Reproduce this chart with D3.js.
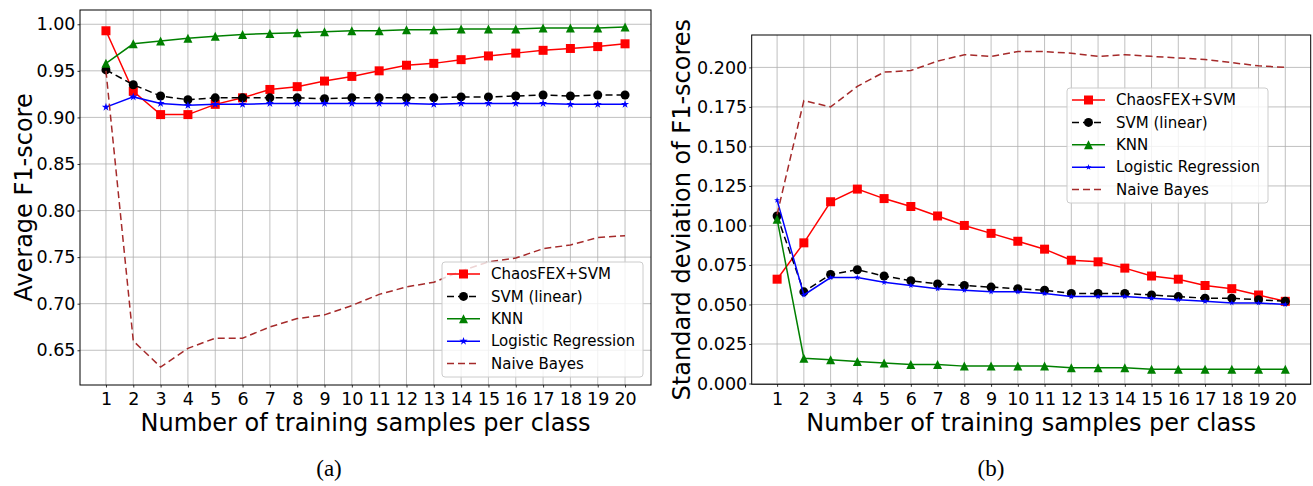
<!DOCTYPE html>
<html>
<head>
<meta charset="utf-8">
<script src="https://cdn.jsdelivr.net/npm/d3@7"></script>
<style>
  body { margin: 0; background: #fff; }
  svg { display: block; font-family: "DejaVu Sans", sans-serif; }
  .grid line { stroke: #b0b0b0; stroke-width: 0.8; }
  .tick text { fill: #000; }
</style>
</head>
<body>
<svg id="fig" width="1313" height="486"></svg>
<script>
// training samples per class
var samples = d3.range(1, 21);

var seriesNames = ["ChaosFEX+SVM", "SVM (linear)", "KNN", "Logistic Regression", "Naive Bayes"];

// (a) average F1-score
var avgChaosFEX = [0.993, 0.928, 0.903, 0.903, 0.914, 0.921, 0.930, 0.933, 0.939, 0.944,
                   0.950, 0.956, 0.958, 0.962, 0.966, 0.969, 0.972, 0.974, 0.976, 0.979];
var avgSVM      = [0.951, 0.935, 0.923, 0.919, 0.921, 0.921, 0.921, 0.921, 0.920, 0.921,
                   0.921, 0.921, 0.921, 0.922, 0.922, 0.923, 0.924, 0.923, 0.924, 0.924];
var avgKNN      = [0.958, 0.979, 0.982, 0.985, 0.987, 0.989, 0.990, 0.991, 0.992, 0.993,
                   0.993, 0.994, 0.994, 0.995, 0.995, 0.995, 0.996, 0.996, 0.996, 0.997];
var avgLR       = [0.911, 0.922, 0.915, 0.913, 0.914, 0.914, 0.915, 0.915, 0.915, 0.915,
                   0.915, 0.915, 0.914, 0.915, 0.915, 0.915, 0.915, 0.914, 0.914, 0.914];
var avgNB       = [0.950, 0.660, 0.632, 0.652, 0.663, 0.663, 0.675, 0.684, 0.688, 0.698,
                   0.710, 0.718, 0.723, 0.735, 0.745, 0.749, 0.759, 0.763, 0.771, 0.773];

// (b) standard deviation of F1-scores
var sdChaosFEX = [0.066, 0.089, 0.115, 0.123, 0.117, 0.112, 0.106, 0.100, 0.095, 0.090,
                  0.085, 0.078, 0.077, 0.073, 0.068, 0.066, 0.062, 0.060, 0.056, 0.052];
var sdSVM      = [0.106, 0.058, 0.069, 0.072, 0.068, 0.065, 0.063, 0.062, 0.061, 0.060,
                  0.059, 0.057, 0.057, 0.057, 0.056, 0.055, 0.054, 0.054, 0.053, 0.052];
var sdKNN      = [0.104, 0.016, 0.015, 0.014, 0.013, 0.012, 0.012, 0.011, 0.011, 0.011,
                  0.011, 0.010, 0.010, 0.010, 0.009, 0.009, 0.009, 0.009, 0.009, 0.009];
var sdLR       = [0.116, 0.056, 0.067, 0.067, 0.064, 0.062, 0.060, 0.059, 0.058, 0.058,
                  0.057, 0.055, 0.055, 0.055, 0.054, 0.053, 0.052, 0.051, 0.051, 0.050];
var sdNB       = [0.107, 0.179, 0.175, 0.188, 0.197, 0.198, 0.204, 0.208, 0.207, 0.210,
                  0.210, 0.209, 0.207, 0.208, 0.207, 0.206, 0.205, 0.203, 0.201, 0.200];

var avgTicks = [0.65, 0.70, 0.75, 0.80, 0.85, 0.90, 0.95, 1.00];
var sdTicks  = [0.000, 0.025, 0.050, 0.075, 0.100, 0.125, 0.150, 0.175, 0.200];

var styles = [
  { color: "#ff0000", marker: "square",   dash: null },
  { color: "#000000", marker: "circle",   dash: "7,4" },
  { color: "#008000", marker: "triangle", dash: null },
  { color: "#0000ff", marker: "star",     dash: null },
  { color: "#a52a2a", marker: null,       dash: "7,4" }
];

var svg = d3.select("#fig");

function markerPath(kind, s) {
  if (kind === "triangle") {
    // matplotlib '^' is centred on its bounding box
    return "M0," + (-s) + "L" + s + "," + s + "L" + (-s) + "," + s + "Z";
  }
  var sym = { square: d3.symbolSquare, circle: d3.symbolCircle, star: d3.symbolStar }[kind];
  var area = { square: 4 * s * s, circle: Math.PI * s * s, star: s * s / 0.8908 }[kind];
  return d3.symbol().type(sym).size(area)();
}

var drawPanel = function(p) {
  var x = d3.scaleLinear().domain([0.05, 20.95]).range([p.left, p.right]);
  var y = d3.scaleLinear().domain(p.yDomain).range([p.bottom, p.top]);
  var g = svg.append("g");

  // grid
  var grid = g.append("g").attr("class", "grid");
  grid.selectAll(".gx").data(samples).enter().append("line")
      .attr("x1", function(d) { return x(d); }).attr("x2", function(d) { return x(d); })
      .attr("y1", p.top).attr("y2", p.bottom);
  grid.selectAll(".gy").data(p.ticks).enter().append("line")
      .attr("x1", p.left).attr("x2", p.right)
      .attr("y1", function(d) { return y(d); }).attr("y2", function(d) { return y(d); });

  // axes
  var xa = g.append("g").attr("transform", "translate(0," + p.bottom + ")")
      .call(d3.axisBottom(x).tickValues(samples).tickFormat(d3.format("d")).tickSize(2.5).tickPadding(1.5));
  var ya = g.append("g").attr("transform", "translate(" + p.left + ",0)")
      .call(d3.axisLeft(y).tickValues(p.ticks).tickFormat(d3.format(p.fmt)).tickSize(2.5).tickPadding(2));
  [xa, ya].forEach(function(a) {
    a.select(".domain").remove();
    a.selectAll("text").attr("font-size", "17.5px").attr("font-family", "DejaVu Sans");
    a.selectAll("line").attr("stroke", "#000").attr("stroke-width", 0.8);
  });
  xa.selectAll("text").attr("dy", "0.93em");

  // series
  p.series.forEach(function(vals, i) {
    var st = styles[i];
    var line = d3.line().x(function(d, j) { return x(samples[j]); }).y(function(d) { return y(d); });
    g.append("path").datum(vals)
        .attr("d", line)
        .attr("fill", "none")
        .attr("stroke", st.color)
        .attr("stroke-width", 1.5)
        .attr("stroke-dasharray", st.dash);
    if (st.marker) {
      g.selectAll(".m" + i).data(vals).enter().append("path")
          .attr("transform", function(d, j) { return "translate(" + x(samples[j]) + "," + y(d) + ")"; })
          .attr("d", markerPath(st.marker, p.msize[st.marker]))
          .attr("fill", st.color);
    }
  });

  // frame
  g.append("rect")
      .attr("x", p.left).attr("y", p.top)
      .attr("width", p.right - p.left).attr("height", p.bottom - p.top)
      .attr("fill", "none").attr("stroke", "#000").attr("stroke-width", 1);

  // labels
  g.append("text")
      .attr("x", (p.left + p.right) / 2).attr("y", 430.5)
      .attr("text-anchor", "middle").attr("font-size", "24px")
      .text("Number of training samples per class");
  g.append("text")
      .attr("transform", "translate(" + p.ylabX + "," + ((p.top + p.bottom) / 2) + ") rotate(-90)")
      .attr("text-anchor", "middle").attr("font-size", "24px")
      .text(p.ylabel);
  g.append("text")
      .attr("x", p.capX).attr("y", 476)
      .attr("text-anchor", "middle")
      .attr("font-family", "Liberation Serif, serif").attr("font-size", "23px")
      .text(p.caption);

  // legend
  var lg = g.append("g").attr("transform", "translate(" + p.legX + "," + p.legY + ")");
  lg.append("rect").attr("width", 201).attr("height", 115).attr("rx", 3)
      .attr("fill", "#fff").attr("fill-opacity", 0.8)
      .attr("stroke", "#cccccc").attr("stroke-width", 1);
  seriesNames.forEach(function(name, i) {
    var st = styles[i];
    var row = lg.append("g").attr("transform", "translate(0," + (12 + i * 22.4) + ")");
    row.append("line").attr("x1", 5).attr("x2", 38).attr("y1", 0).attr("y2", 0)
        .attr("stroke", st.color).attr("stroke-width", 1.5)
        .attr("stroke-dasharray", st.dash);
    if (st.marker) {
      row.append("path").attr("transform", "translate(21.5,0)")
          .attr("d", markerPath(st.marker, p.msize[st.marker]))
          .attr("fill", st.color);
    }
    row.append("text").attr("x", 49).attr("dy", "0.35em")
        .attr("font-size", "15px").text(name);
  });
};

drawPanel({
  left: 80, right: 651, top: 10, bottom: 385,
  yDomain: [0.6127, 1.0153], ticks: avgTicks, fmt: ".2f",
  series: [avgChaosFEX, avgSVM, avgKNN, avgLR, avgNB],
  ylabel: "Average F1-score", ylabX: 32, capX: 329, caption: "(a)",
  legX: 442, legY: 262,
  msize: { square: 4.5, circle: 4.5, triangle: 4.5, star: 4.3 }
});

drawPanel({
  left: 751.7, right: 1310.7, top: 35, bottom: 384.3,
  yDomain: [-0.0005, 0.2205], ticks: sdTicks, fmt: ".3f",
  series: [sdChaosFEX, sdSVM, sdKNN, sdLR, sdNB],
  ylabel: "Standard deviation of F1-scores", ylabX: 690, capX: 991, caption: "(b)",
  legX: 1067, legY: 88,
  msize: { square: 4.5, circle: 4.5, triangle: 4.5, star: 3.2 }
});
</script>
</body>
</html>
